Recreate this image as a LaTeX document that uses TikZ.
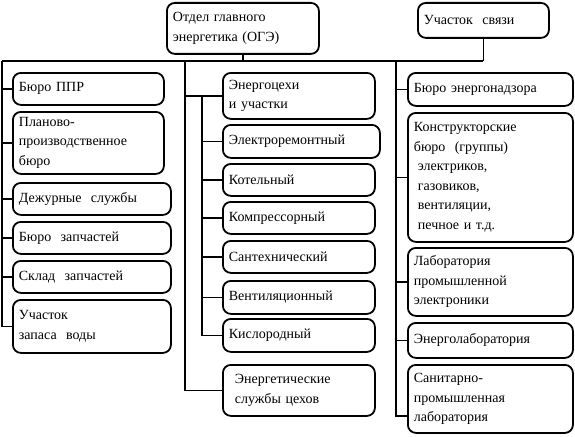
\documentclass[tikz,border=0pt]{standalone}
\usepackage{fontspec}
\setmainfont{Liberation Serif}
\newfontfamily\boxfont{Liberation Serif}
\usepackage{tikz}
\usetikzlibrary{calc,positioning}
\tikzset{
  box/.style={draw,line width=1.8pt,rounded corners=8pt,anchor=north west,align=left,
    inner xsep=6pt,inner ysep=0pt,font=\boxfont\fontsize{14}{19.5}\selectfont},
  wire/.style={line width=1.6pt}
}

\begin{document}
\begin{tikzpicture}[x=1pt,y=-1pt]
\useasboundingbox (0,0) rectangle (575,436);
% top level
\node[box,text width=140pt,minimum height=51pt] (oge) at (166,2) {Отдел главного\\энергетика (ОГЭ)};
\node[box,text width=119pt,minimum height=35pt] (svyaz) at (417,2) {Участок\ \ связи};
% left column
\node[box,text width=139pt,minimum height=32pt] (ppr) at (12,72) {Бюро ППР};
\node[box,text width=139pt,minimum height=62pt] (plan) at (12,111) {Планово-\\производственное\\бюро};
\node[box,text width=146pt,minimum height=32pt] (duty) at (12,182) {Дежурные\ \ службы};
\node[box,text width=146pt,minimum height=32pt] (parts) at (12,221) {Бюро\ \ запчастей};
\node[box,text width=146pt,minimum height=32pt] (store) at (12,260) {Склад\ \ запчастей};
\node[box,text width=146pt,minimum height=53pt] (water) at (12,299) {Участок\\запаса\ \ воды};
% middle column
\node[box,text width=140pt,minimum height=46pt] (cehi) at (222,72) {Энергоцехи\\и участки};
\node[box,text width=145pt,minimum height=33pt] (elrem) at (222,124) {Электроремонтный};
\node[box,text width=140pt,minimum height=32pt] (kotel) at (222,163) {Котельный};
\node[box,text width=140pt,minimum height=32pt] (compr) at (222,201) {Компрессорный};
\node[box,text width=140pt,minimum height=32pt] (santeh) at (222,240) {Сантехнический};
\node[box,text width=140pt,minimum height=33pt] (vent) at (222,280) {Вентиляционный};
\node[box,text width=140pt,minimum height=33pt] (kisl) at (222,318) {Кислородный};
\node[box,text width=140pt,minimum height=51pt] (esl) at (222,364) {\hspace*{6pt}Энергетические\\\hspace*{6pt}службы цехов};
% right column
\node[box,text width=153pt,minimum height=33pt] (nadzor) at (407,72) {Бюро энергонадзора};
\node[box,text width=153pt,minimum height=129pt] (konstr) at (407,112) {Конструкторские\\бюро\ \ (группы)\\\hspace*{4pt}электриков,\\\hspace*{4pt}газовиков,\\\hspace*{4pt}вентиляции,\\\hspace*{4pt}печное и т.д.};
\node[box,text width=153pt,minimum height=68pt] (lab) at (407,247) {Лаборатория\\промышленной\\электроники};
\node[box,text width=153pt,minimum height=35pt] (enlab) at (407,322) {Энерголаборатория};
\node[box,text width=153pt,minimum height=68pt] (sanlab) at (407,364) {Санитарно-\\промышленная\\лаборатория};
% buses
\coordinate (bl) at (2,61);
\coordinate (bm) at (185,61);
\coordinate (bi) at (202,61);
\coordinate (br) at (396,61);
\draw[wire] (oge.south) -- (oge.south |- bl);
\draw[wire] (svyaz.south) -- (svyaz.south |- bl);
\draw[wire] (bl) -- (svyaz.south |- bl);
\draw[wire] (bl) |- (water.west);
\foreach \n in {ppr,plan,duty,parts,store}
  \draw[wire] (\n.west) -- (\n.west -| bl);
\draw[wire] (bm) |- (esl.west);
\draw[wire] (cehi.west) -- (cehi.west -| bm);
\draw[wire] (cehi.west -| bi) |- (kisl.west);
\foreach \n in {elrem,kotel,compr,santeh,vent}
  \draw[wire] (\n.west) -- (\n.west -| bi);
\draw[wire] (br) |- ([yshift=-17pt]sanlab.west);
\foreach \n in {nadzor,konstr,lab,enlab}
  \draw[wire] (\n.west) -- (\n.west -| br);
\end{tikzpicture}
\end{document}
